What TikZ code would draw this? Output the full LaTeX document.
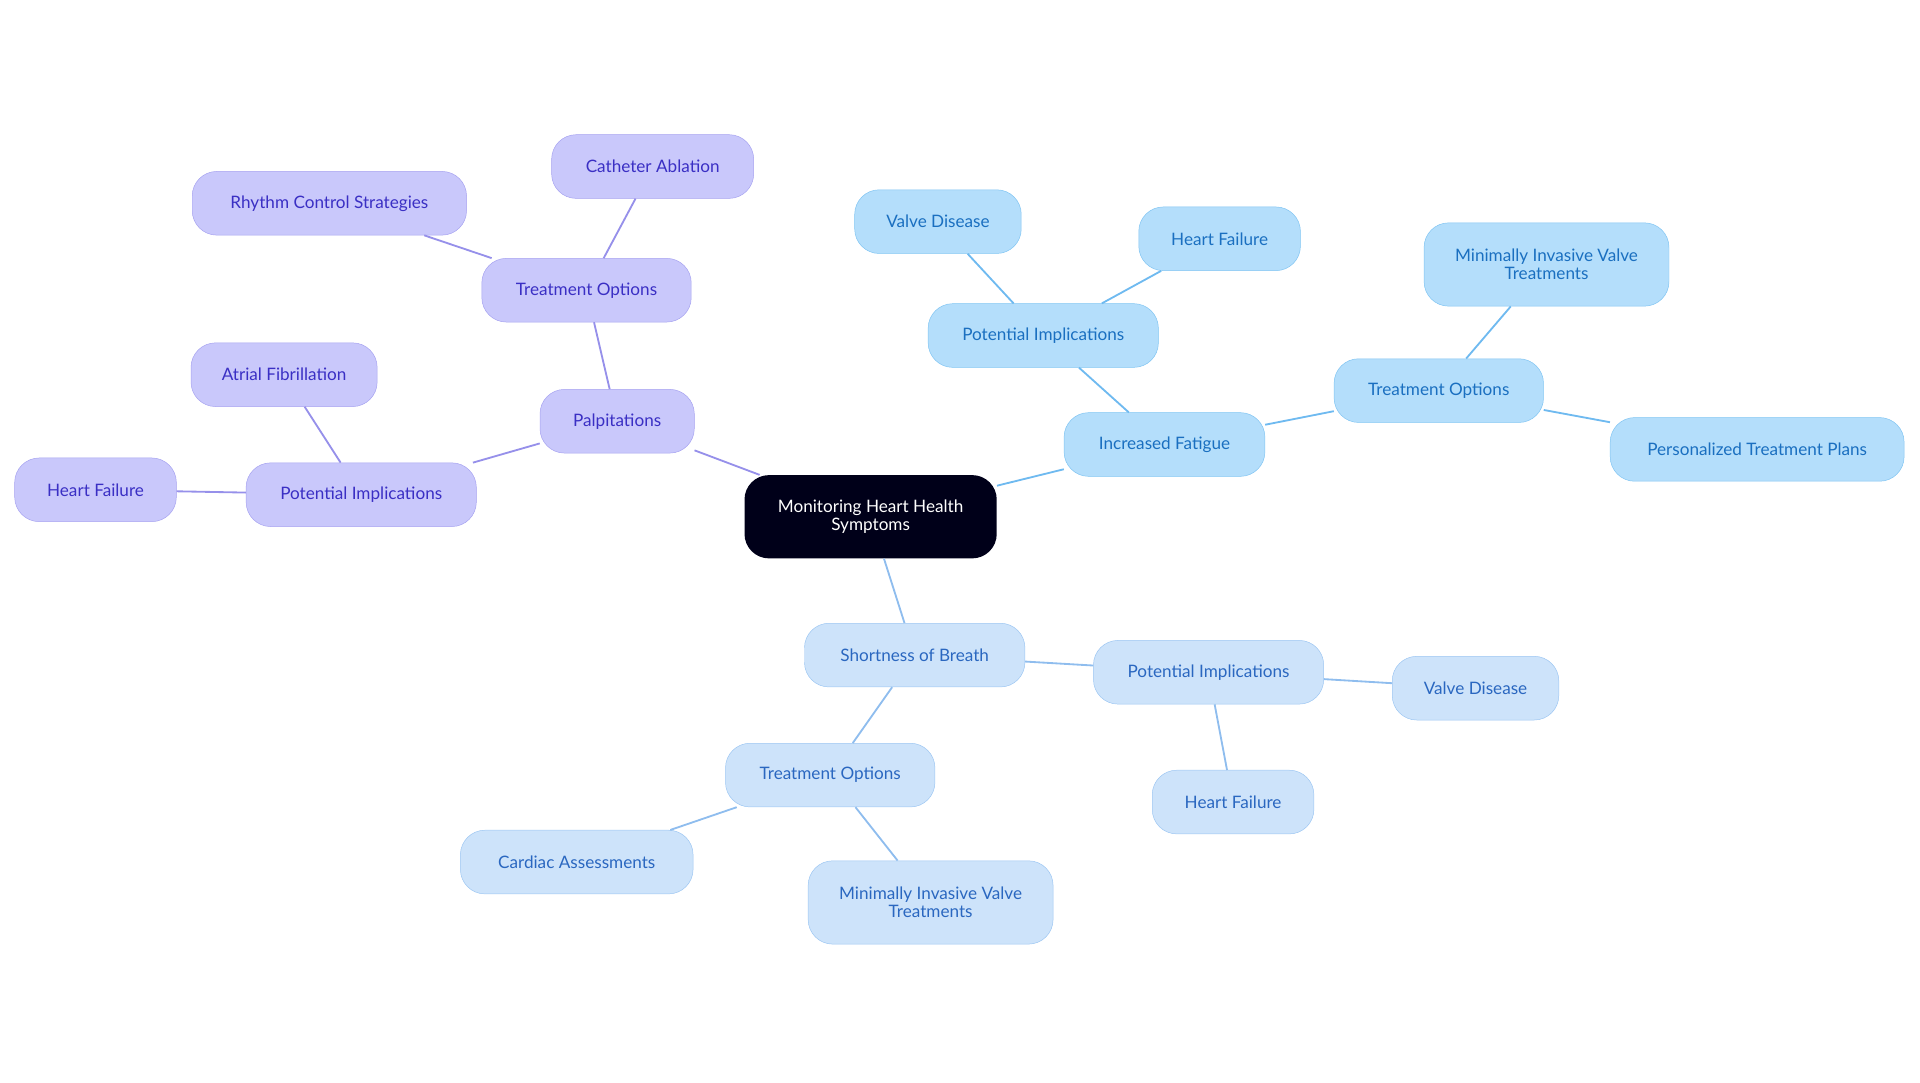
\documentclass[tikz,border=0pt]{standalone}
\usepackage{fontspec}
\setmainfont{Lato}
\definecolor{pf}{HTML}{C9C8FB}\definecolor{pd}{HTML}{A6A2F0}\definecolor{pt}{HTML}{3A2FC4}\definecolor{pl}{HTML}{9690EA}
\definecolor{bf}{HTML}{B4DEFB}\definecolor{bd}{HTML}{7FC4F2}\definecolor{bt}{HTML}{1A6FC0}\definecolor{bl}{HTML}{6FBAF0}
\definecolor{cf}{HTML}{CDE3FA}\definecolor{cd}{HTML}{9CC6F2}\definecolor{ct}{HTML}{2A67C0}\definecolor{cl}{HTML}{8FBDEE}
\begin{document}
\begin{tikzpicture}[x=1pt,y=-1pt,
 base/.style={rounded corners=20pt,minimum height=52pt,align=center,font=\fontsize{14}{15}\selectfont,inner sep=2pt},
 pn/.style={base,fill=pf,draw=pd,text=pt},
 bn/.style={base,fill=bf,draw=bd,text=bt},
 cn/.style={base,fill=cf,draw=cd,text=ct},
 pe/.style={draw=pl,line width=1.5pt},
 be/.style={draw=bl,line width=1.5pt},
 ce/.style={draw=cl,line width=1.5pt}]
\useasboundingbox (0,0) rectangle (1568,884.4);
\node[base,fill=black!90!blue,text=white,minimum width=206pt,minimum height=68pt] (root) at (711,422) {Monitoring Heart Health\\Symptoms};
\node[pn,minimum width=126pt] (pal) at (504,344) {Palpitations};
\node[pn,minimum width=171pt] (to1) at (479,237) {Treatment Options};
\node[pn,minimum width=165pt] (ca) at (533,136) {Catheter Ablation};
\node[pn,minimum width=224pt] (rc) at (269,166) {Rhythm Control Strategies};
\node[pn,minimum width=188pt] (pi1) at (295,404) {Potential Implications};
\node[pn,minimum width=152pt] (af) at (232,306) {Atrial Fibrillation};
\node[pn,minimum width=132pt] (hf1) at (78,400) {Heart Failure};
\node[bn,minimum width=164pt] (fat) at (951,363) {Increased Fatigue};
\node[bn,minimum width=188pt] (pi2) at (852,274) {Potential Implications};
\node[bn,minimum width=136pt] (vd2) at (766,181) {Valve Disease};
\node[bn,minimum width=132pt] (hf2) at (996,195) {Heart Failure};
\node[bn,minimum width=171pt] (to2) at (1175,319) {Treatment Options};
\node[bn,minimum width=200pt,minimum height=68pt] (mi2) at (1263,216) {Minimally Invasive Valve\\Treatments};
\node[bn,minimum width=240pt] (ptp) at (1435,367) {Personalized Treatment Plans};
\node[cn,minimum width=180pt] (sob) at (747,535) {Shortness of Breath};
\node[cn,minimum width=188pt] (pi3) at (987,549) {Potential Implications};
\node[cn,minimum width=136pt] (vd3) at (1205,562) {Valve Disease};
\node[cn,minimum width=132pt] (hf3) at (1007,655) {Heart Failure};
\node[cn,minimum width=171pt] (to3) at (678,633) {Treatment Options};
\node[cn,minimum width=190pt] (cas) at (471,704) {Cardiac Assessments};
\node[cn,minimum width=200pt,minimum height=68pt] (mi3) at (760,737) {Minimally Invasive Valve\\Treatments};
\begin{scope}[on background layer/.try]
\end{scope}
\draw[pe] (root) -- (pal); \draw[pe] (pal) -- (to1); \draw[pe] (to1) -- (ca); \draw[pe] (to1) -- (rc);
\draw[pe] (pal) -- (pi1); \draw[pe] (pi1) -- (af); \draw[pe] (pi1) -- (hf1);
\draw[be] (root) -- (fat); \draw[be] (fat) -- (pi2); \draw[be] (pi2) -- (vd2); \draw[be] (pi2) -- (hf2);
\draw[be] (fat) -- (to2); \draw[be] (to2) -- (mi2); \draw[be] (to2) -- (ptp);
\draw[ce] (root) -- (sob); \draw[ce] (sob) -- (pi3); \draw[ce] (pi3) -- (vd3); \draw[ce] (pi3) -- (hf3);
\draw[ce] (sob) -- (to3); \draw[ce] (to3) -- (cas); \draw[ce] (to3) -- (mi3);
\end{tikzpicture}
\end{document}
